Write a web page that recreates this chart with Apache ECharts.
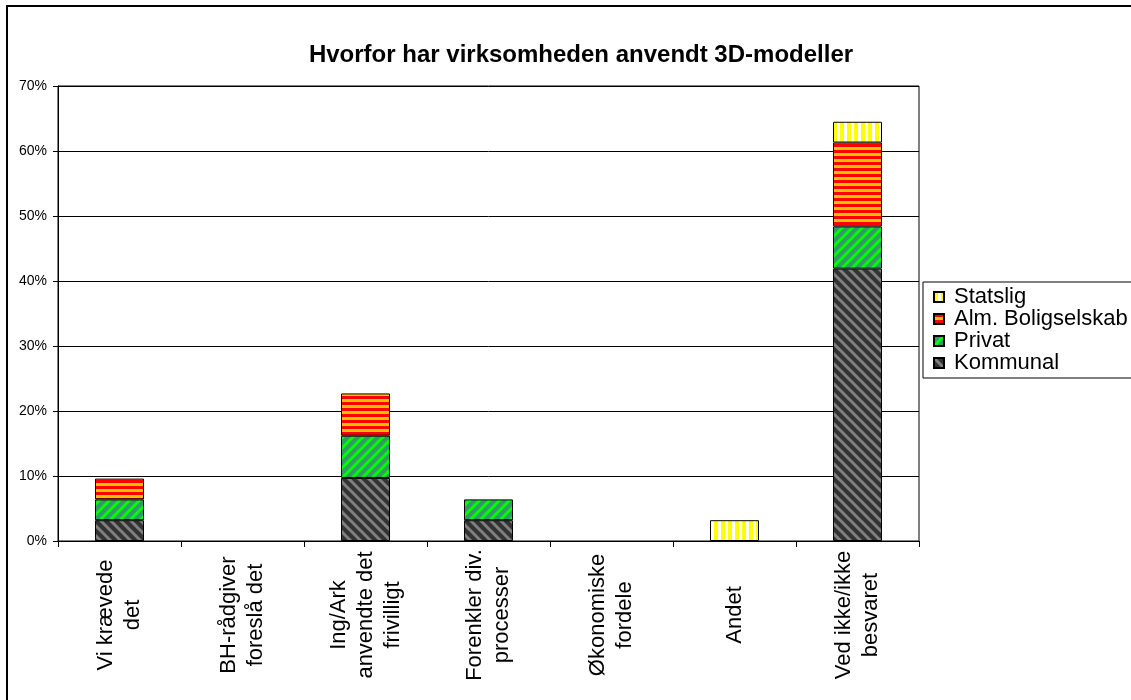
<!DOCTYPE html>
<html>
<head>
<meta charset="utf-8">
<title>Hvorfor har virksomheden anvendt 3D-modeller</title>
<script src="https://cdn.jsdelivr.net/npm/echarts@6/dist/echarts.min.js"></script>
<style>
  html, body { margin: 0; padding: 0; background: #fff; }
  #chart { width: 1131px; height: 700px; }
</style>
</head>
<body>
<div id="chart"></div>
<script>
// kategorier og værdier (procent af besvarelser)
var categories = [
  "Vi krævede\ndet",
  "BH-rådgiver\nforeslå det",
  "Ing/Ark\nanvendte det\nfrivilligt",
  "Forenkler div.\nprocesser",
  "Økonomiske\nfordele",
  "Andet",
  "Ved ikke/ikke\nbesvaret"
];
var kommunal = [3.2, 0, 9.7, 3.2, 0, 0, 41.9];
var privat = [3.2, 0, 6.5, 3.2, 0, 0, 6.5];
var almBolig = [3.2, 0, 6.5, 0, 0, 0, 12.9];
var statslig = [0, 0, 0, 0, 0, 3.2, 3.2];
var yTicks = [0, 10, 20, 30, 40, 50, 60, 70];

var FONT = "'Liberation Sans', Arial, sans-serif";

// skraverede fyldmønstre som i Excel
function diagPattern(bg, fg, dir) {
  var c = document.createElement("canvas");
  c.width = 10;
  c.height = 10;
  var ctx = c.getContext("2d");
  ctx.fillStyle = bg;
  ctx.fillRect(0, 0, 10, 10);
  ctx.strokeStyle = fg;
  ctx.lineWidth = 3;
  for (var k = -1; k <= 2; k++) {
    ctx.beginPath();
    if (dir == "down") {
      ctx.moveTo(-5, -5 + k * 10);
      ctx.lineTo(15, 15 + k * 10);
    } else {
      ctx.moveTo(-5, 5 + k * 10);
      ctx.lineTo(15, -15 + k * 10);
    }
    ctx.stroke();
  }
  return { image: c, repeat: "repeat" };
}
function stripePattern(c1, c2, w1, w2, vertical) {
  var c = document.createElement("canvas");
  var size = w1 + w2;
  c.width = vertical ? size : 4;
  c.height = vertical ? 4 : size;
  var ctx = c.getContext("2d");
  ctx.fillStyle = c2;
  ctx.fillRect(0, 0, c.width, c.height);
  ctx.fillStyle = c1;
  if (vertical) ctx.fillRect(0, 0, w1, 4);
  else ctx.fillRect(0, 0, 4, w1);
  return { image: c, repeat: "repeat" };
}

var fills = {
  Kommunal: diagPattern("#333333", "#808080", "down"),
  Privat: diagPattern("#339966", "#00FF00", "up"),
  "Alm. Boligselskab": stripePattern("#FF0000", "#FFC000", 3, 3, false),
  Statslig: stripePattern("#FFFF00", "#FFFFFF", 4, 3, true)
};

function makeSeries(name, values) {
  return {
    name: name,
    type: "bar",
    stack: "total",
    barWidth: 49,
    data: values.map(function (v) { return v || "-"; }),
    itemStyle: {
      color: fills[name],
      borderColor: "#000",
      borderWidth: 1
    }
  };
}

var option = {
  animation: false,
  backgroundColor: "#fff",
  textStyle: { fontFamily: FONT, color: "#000" },
  title: {
    text: "Hvorfor har virksomheden anvendt 3D-modeller",
    left: 576,
    top: 38,
    textAlign: "center",
    textStyle: { fontFamily: FONT, fontSize: 24, fontWeight: "bold", color: "#000" }
  },
  graphic: [
    {
      type: "rect",
      shape: { x: 7, y: 6, width: 1300, height: 900 },
      style: { fill: null, stroke: "#000", lineWidth: 2 },
      silent: true
    }
  ],
  legend: {
    orient: "vertical",
    left: 923,
    top: 282,
    data: ["Statslig", "Alm. Boligselskab", "Privat", "Kommunal"],
    icon: "rect",
    itemWidth: 10,
    itemHeight: 10,
    itemGap: 0,
    padding: [4, 10, 4, 10],
    borderColor: "#000",
    borderWidth: 1,
    backgroundColor: "#fff",
    textStyle: { fontFamily: FONT, fontSize: 22, lineHeight: 21.7, color: "#000", padding: [0, 0, 0, 5] }
  },
  grid: {
    left: 58,
    right: 212,
    top: 86,
    bottom: 159,
    show: true,
    borderColor: "#000",
    borderWidth: 1
  },
  xAxis: {
    type: "category",
    data: categories,
    boundaryGap: true,
    axisLine: { lineStyle: { color: "#000", width: 1 } },
    axisTick: { show: true, length: 6, lineStyle: { color: "#000" } },
    axisLabel: {
      rotate: 90,
      align: "center",
      verticalAlign: "middle",
      margin: 74,
      interval: 0,
      fontFamily: FONT,
      fontSize: 22,
      lineHeight: 27,
      color: "#000"
    }
  },
  yAxis: {
    type: "value",
    min: yTicks[0],
    max: yTicks[yTicks.length - 1],
    interval: 10,
    axisLine: { show: true, lineStyle: { color: "#000", width: 1 } },
    axisTick: { show: true, length: 5, lineStyle: { color: "#000" } },
    splitLine: { show: true, lineStyle: { color: "#000", width: 1 } },
    axisLabel: {
      formatter: "{value}%",
      margin: 11,
      fontFamily: FONT,
      fontSize: 14,
      color: "#000"
    }
  },
  series: [
    makeSeries("Kommunal", kommunal),
    makeSeries("Privat", privat),
    makeSeries("Alm. Boligselskab", almBolig),
    makeSeries("Statslig", statslig)
  ]
};

var myChart = echarts.init(document.getElementById("chart"));
myChart.setOption(option);
</script>
</body>
</html>
